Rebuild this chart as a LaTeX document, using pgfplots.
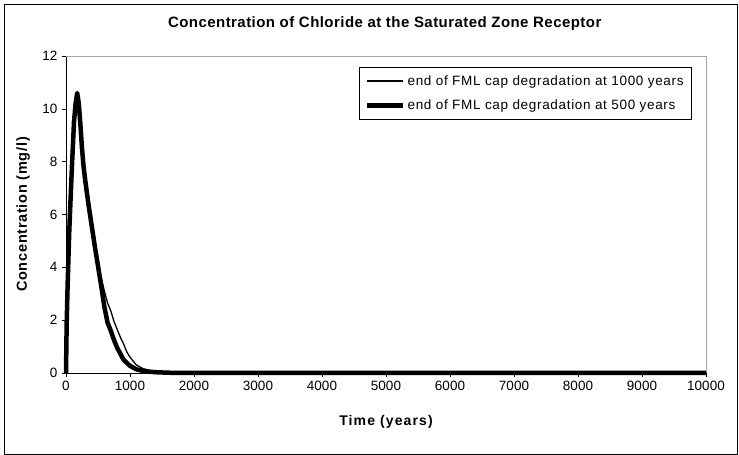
\documentclass[border=0pt]{standalone}
\usepackage{pgfplots}
\pgfplotsset{compat=1.18}
\usepackage{fontspec}
\setmainfont{Liberation Sans}
\newfontfamily\titlefont[LetterSpace=3]{Liberation Sans}
\newfontfamily\ylfont[LetterSpace=5]{Liberation Sans}
\newfontfamily\xlfont[LetterSpace=8]{Liberation Sans}
\newfontfamily\legfont[LetterSpace=5]{Liberation Sans}
\begin{document}
\begin{tikzpicture}
\useasboundingbox (0pt,0pt) rectangle (739pt,455pt);
\draw[line width=0.8pt] (4.5pt,1pt) rectangle (737pt,451pt);
\begin{axis}[
  at={(66pt,82pt)}, anchor=south west,
  scale only axis, width=640pt, height=317pt,
  xmin=0, xmax=10000, ymin=0, ymax=12,
  axis lines=left,
  axis line style={-, black, line width=0.8pt},
  xtick={0,1000,...,10000},
  ytick={0,2,...,12},
  scaled x ticks=false,
  tick align=outside,
  major tick length=4pt,
  tick style={black, line width=0.6pt},
  /pgf/number format/1000 sep={},
  /pgf/number format/assume math mode=true,
  ticklabel style={font=\fontsize{13.5}{15}\selectfont},
  xticklabel style={yshift=-1pt},
  yticklabel style={xshift=-1pt},
  title={Concentration of Chloride at the Saturated Zone Receptor},
  title style={at={(axis description cs:0.498,1.082)}, anchor=center, font=\titlefont\fontsize{15}{17}\selectfont\bfseries},
  xlabel={Time (years)},
  xlabel style={at={(axis description cs:0.5,-0.155)}, anchor=center, font=\xlfont\fontsize{14}{16}\selectfont\bfseries},
  ylabel={Concentration (mg/l)},
  ylabel style={at={(axis description cs:-0.067,0.5)}, anchor=center, font=\ylfont\fontsize{14.5}{16}\selectfont\bfseries},
  legend style={at={(0.978,0.965)}, anchor=north east, draw=black, line width=0.6pt,
    font=\legfont\fontsize{13.5}{15}\selectfont, row sep=9pt, inner xsep=6pt, inner ysep=6pt,
    nodes={inner xsep=2pt}},
  legend cell align=left,
  legend image code/.code={\draw[#1] (0pt,0pt) -- (36pt,0pt);},
  clip=false,
]
\draw[gray!70, line width=0.8pt] (rel axis cs:0,1) -- (rel axis cs:1,1) -- (rel axis cs:1,0);
\addplot[black, line width=1.3pt, line join=round] coordinates {
(0,0) (10,1.8) (25,3.3) (50,5.3) (75,6.8) (100,8.2) (125,9.5) (150,10.2) (175,10.6) (200,10.2) (225,9.4) (250,8.5) (275,7.8) (300,7.3) (350,6.4) (400,5.6) (450,4.8) (500,4.15) (550,3.6) (600,3.1) (650,2.65) (700,2.35) (750,1.95) (800,1.65) (850,1.35) (900,1.1) (950,0.8) (1000,0.6) (1100,0.3) (1200,0.17) (1300,0.1) (1400,0.05) (1500,0.03) (1600,0.01) (2000,0) (3000,0) (4000,0) (5000,0) (6000,0) (7000,0) (8000,0) (9000,0) (10000,0)
};
\addlegendentry{end of FML cap degradation at 1000 years}
\addplot[black, line width=4.5pt, line join=round] coordinates {
(0,0) (10,1.8) (25,3.3) (50,5.3) (75,6.8) (100,8.2) (125,9.5) (150,10.2) (175,10.6) (200,10.2) (225,9.4) (250,8.5) (275,7.8) (300,7.3) (350,6.4) (400,5.6) (450,4.8) (500,4.05) (550,3.3) (600,2.5) (650,1.9) (700,1.6) (750,1.25) (800,0.95) (900,0.5) (1000,0.27) (1100,0.14) (1200,0.08) (1300,0.05) (1400,0.03) (1500,0.02) (1600,0.01) (2000,0) (3000,0) (4000,0) (5000,0) (6000,0) (7000,0) (8000,0) (9000,0) (10000,0)
};
\addlegendentry{end of FML cap degradation at 500 years}
\end{axis}
\end{tikzpicture}
\end{document}
